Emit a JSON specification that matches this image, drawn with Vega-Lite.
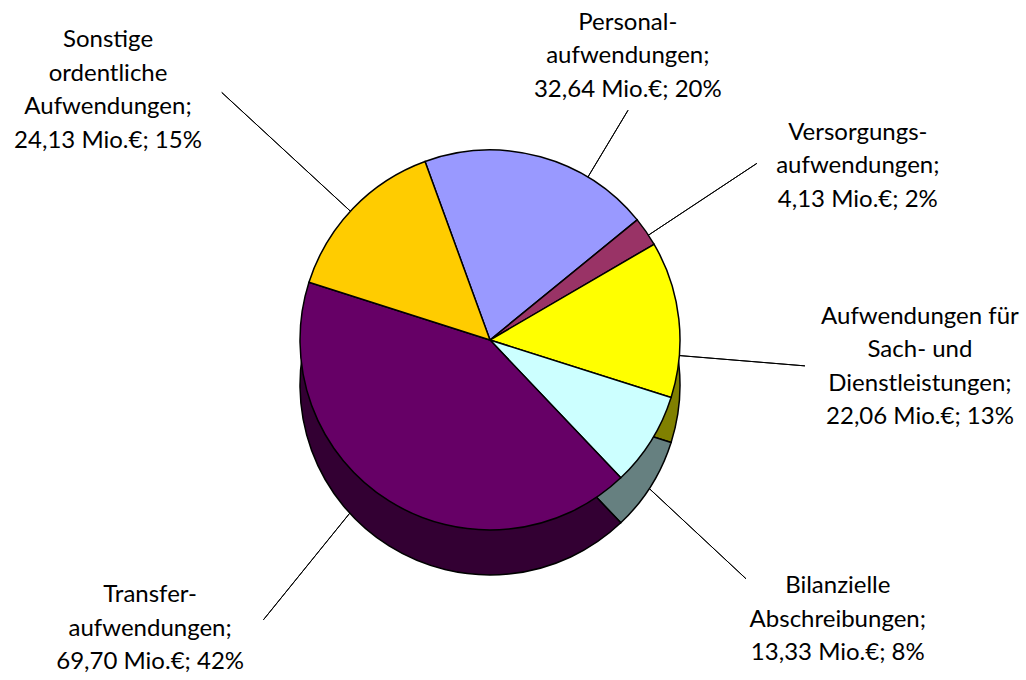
{
  "$schema": "https://vega.github.io/schema/vega-lite/v6.json",
  "width": 980,
  "height": 680,
  "autosize": {"type": "none"},
  "padding": {"left": 0, "top": 0, "right": 46, "bottom": 0},
  "background": "white",
  "config": {"view": {"stroke": null}},
  "data": {
    "values": [
      {"kat": "Personalaufwendungen", "betrag": 32.64, "ord": 1, "label": "Personal-\naufwendungen;\n32,64 Mio.€; 20%"},
      {"kat": "Versorgungsaufwendungen", "betrag": 4.13, "ord": 2, "label": "Versorgungs-\naufwendungen;\n4,13 Mio.€; 2%"},
      {"kat": "Sach- und Dienstleistungen", "betrag": 22.06, "ord": 3, "label": "Aufwendungen für\nSach- und\nDienstleistungen;\n22,06 Mio.€; 13%"},
      {"kat": "Bilanzielle Abschreibungen", "betrag": 13.33, "ord": 4, "label": "Bilanzielle\nAbschreibungen;\n13,33 Mio.€; 8%"},
      {"kat": "Transferaufwendungen", "betrag": 69.70, "ord": 5, "label": "Transfer-\naufwendungen;\n69,70 Mio.€; 42%"},
      {"kat": "Sonstige ordentliche Aufwendungen", "betrag": 24.13, "ord": 6, "label": "Sonstige\nordentliche\nAufwendungen;\n24,13 Mio.€; 15%"}
    ]
  },
  "encoding": {
    "theta": {"field": "betrag", "type": "quantitative", "stack": true, "scale": {"range": [-0.349066, 5.934119]}},
    "order": {"field": "ord", "type": "quantitative"}
  },
  "layer": [
    {"transform": [{"stack": "betrag", "groupby": [], "sort": [{"field": "ord", "order": "ascending"}], "as": ["s0", "s1"]}, {"filter": "datum.ord === 1"}],
     "mark": {"type": "arc", "innerRadius": 150, "outerRadius": 268, "thetaOffset": 0.8901, "theta2Offset": 0.8901, "fillOpacity": 0, "stroke": "black", "strokeWidth": 1},
     "encoding": {"theta": {"field": "s0", "type": "quantitative", "stack": null}, "theta2": {"field": "s0"}}},
    {"transform": [{"stack": "betrag", "groupby": [], "sort": [{"field": "ord", "order": "ascending"}], "as": ["s0", "s1"]}, {"filter": "datum.ord === 2"}],
     "mark": {"type": "arc", "innerRadius": 150, "outerRadius": 320, "thetaOffset": 0.0997, "theta2Offset": 0.0997, "fillOpacity": 0, "stroke": "black", "strokeWidth": 1},
     "encoding": {"theta": {"field": "s0", "type": "quantitative", "stack": null}, "theta2": {"field": "s0"}}},
    {"transform": [{"stack": "betrag", "groupby": [], "sort": [{"field": "ord", "order": "ascending"}], "as": ["s0", "s1"]}, {"filter": "datum.ord === 3"}],
     "mark": {"type": "arc", "innerRadius": 150, "outerRadius": 316, "thetaOffset": 0.6100, "theta2Offset": 0.6100, "fillOpacity": 0, "stroke": "black", "strokeWidth": 1},
     "encoding": {"theta": {"field": "s0", "type": "quantitative", "stack": null}, "theta2": {"field": "s0"}}},
    {"transform": [{"stack": "betrag", "groupby": [], "sort": [{"field": "ord", "order": "ascending"}], "as": ["s0", "s1"]}, {"filter": "datum.ord === 4"}],
     "mark": {"type": "arc", "innerRadius": 150, "outerRadius": 350, "thetaOffset": 0.4435, "theta2Offset": 0.4435, "fillOpacity": 0, "stroke": "black", "strokeWidth": 1},
     "encoding": {"theta": {"field": "s0", "type": "quantitative", "stack": null}, "theta2": {"field": "s0"}}},
    {"transform": [{"stack": "betrag", "groupby": [], "sort": [{"field": "ord", "order": "ascending"}], "as": ["s0", "s1"]}, {"filter": "datum.ord === 5"}],
     "mark": {"type": "arc", "innerRadius": 150, "outerRadius": 360, "thetaOffset": 1.4399, "theta2Offset": 1.4399, "fillOpacity": 0, "stroke": "black", "strokeWidth": 1},
     "encoding": {"theta": {"field": "s0", "type": "quantitative", "stack": null}, "theta2": {"field": "s0"}}},
    {"transform": [{"stack": "betrag", "groupby": [], "sort": [{"field": "ord", "order": "ascending"}], "as": ["s0", "s1"]}, {"filter": "datum.ord === 6"}],
     "mark": {"type": "arc", "innerRadius": 150, "outerRadius": 365, "thetaOffset": 0.4369, "theta2Offset": 0.4369, "fillOpacity": 0, "stroke": "black", "strokeWidth": 1},
     "encoding": {"theta": {"field": "s0", "type": "quantitative", "stack": null}, "theta2": {"field": "s0"}}},
    {"mark": {"type": "arc", "outerRadius": 190, "yOffset": 45, "stroke": "black", "strokeWidth": 1.5},
     "encoding": {"color": {"field": "kat", "type": "nominal", "legend": null,
       "scale": {"domain": ["Personalaufwendungen", "Versorgungsaufwendungen", "Sach- und Dienstleistungen", "Bilanzielle Abschreibungen", "Transferaufwendungen", "Sonstige ordentliche Aufwendungen"],
                 "range": ["#4c4c80", "#4c1933", "#808000", "#668080", "#330033", "#806600"]}}}},
    {"mark": {"type": "arc", "outerRadius": 190, "stroke": "black", "strokeWidth": 1.5},
     "encoding": {"color": {"field": "kat", "type": "nominal", "legend": null,
       "scale": {"domain": ["Personalaufwendungen", "Versorgungsaufwendungen", "Sach- und Dienstleistungen", "Bilanzielle Abschreibungen", "Transferaufwendungen", "Sonstige ordentliche Aufwendungen"],
                 "range": ["#9999ff", "#993366", "#ffff00", "#ccffff", "#660066", "#ffcc00"]}}}},
    {"mark": {"type": "text", "radius": 345.7, "thetaOffset": 0.1414, "font": "Lato", "fontSize": 24, "lineHeight": 33.5, "lineBreak": "\n", "align": "center", "baseline": "middle", "color": "black"},
     "encoding": {"text": {"condition": {"test": "datum.ord === 1", "field": "label", "type": "nominal"}, "value": ""}}},
    {"mark": {"type": "text", "radius": 422.2, "thetaOffset": 0.0930, "font": "Lato", "fontSize": 24, "lineHeight": 33.5, "lineBreak": "\n", "align": "center", "baseline": "middle", "color": "black"},
     "encoding": {"text": {"condition": {"test": "datum.ord === 2", "field": "label", "type": "nominal"}, "value": ""}}},
    {"mark": {"type": "text", "radius": 430.6, "thetaOffset": 0.0564, "font": "Lato", "fontSize": 24, "lineHeight": 33.5, "lineBreak": "\n", "align": "center", "baseline": "middle", "color": "black"},
     "encoding": {"text": {"condition": {"test": "datum.ord === 3", "field": "label", "type": "nominal"}, "value": ""}}},
    {"mark": {"type": "text", "radius": 426.2, "thetaOffset": 0.0569, "font": "Lato", "fontSize": 24, "lineHeight": 33.5, "lineBreak": "\n", "align": "center", "baseline": "middle", "color": "black"},
     "encoding": {"text": {"condition": {"test": "datum.ord === 4", "field": "label", "type": "nominal"}, "value": ""}}},
    {"mark": {"type": "text", "radius": 425, "thetaOffset": 0.3668, "font": "Lato", "fontSize": 24, "lineHeight": 33.5, "lineBreak": "\n", "align": "center", "baseline": "middle", "color": "black"},
     "encoding": {"text": {"condition": {"test": "datum.ord === 5", "field": "label", "type": "nominal"}, "value": ""}}},
    {"mark": {"type": "text", "radius": 485.7, "thetaOffset": -0.0993, "font": "Lato", "fontSize": 24, "lineHeight": 33.5, "lineBreak": "\n", "align": "center", "baseline": "middle", "color": "black"},
     "encoding": {"text": {"condition": {"test": "datum.ord === 6", "field": "label", "type": "nominal"}, "value": ""}}}
  ],
  "resolve": {"scale": {"color": "independent"}}
}
